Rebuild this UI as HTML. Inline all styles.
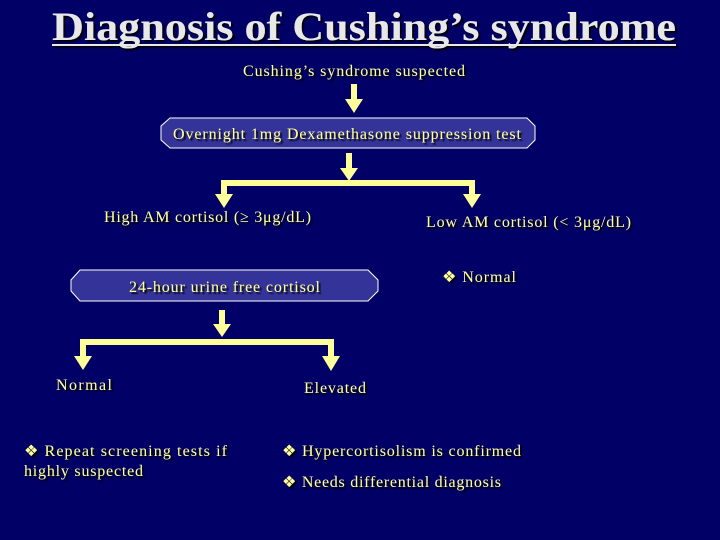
<!DOCTYPE html>
<html><head><meta charset="utf-8"><style>
html,body{margin:0;padding:0;background:#000066;}
svg{display:block;}
text{font-family:"Liberation Serif",serif;}
</style></head><body>
<svg width="720" height="540" viewBox="0 0 720 540" xmlns="http://www.w3.org/2000/svg">
<rect width="720" height="540" fill="#000066"/>
<defs>
<filter id="sh"><feDropShadow dx="2" dy="2" stdDeviation="0.5" flood-color="#000000" flood-opacity="0.9"/></filter>
</defs>
<g filter="url(#sh)">
<text x="52" y="40" textLength="624" lengthAdjust="spacingAndGlyphs" font-size="40" font-weight="bold" fill="#e8e8e8">Diagnosis of Cushing’s syndrome</text>
<line x1="52" y1="45" x2="676" y2="45" stroke="#e8e8e8" stroke-width="2"/>
</g>
<g fill="#ffff99">
<rect x="351" y="84" width="6" height="16"/><polygon points="345,99 363,99 354,113"/>
<rect x="346" y="153" width="6" height="18"/><polygon points="340,168 358,168 349,181"/>
<rect x="221" y="180" width="254" height="6"/>
<rect x="221" y="180" width="6" height="16"/><polygon points="215,194 233,194 224,208"/>
<rect x="469" y="180" width="6" height="16"/><polygon points="463,194 481,194 472,208"/>
<rect x="219" y="310" width="6" height="16"/><polygon points="213,324 231,324 222,337"/>
<rect x="80" y="339" width="254" height="6"/>
<rect x="80" y="339" width="6" height="17"/><polygon points="74,356 92,356 83,370"/>
<rect x="328" y="339" width="6" height="17"/><polygon points="322,356 340,356 331,371"/>
</g>
<polygon points="170,118 527,118 535,126 535,140 527,148 170,148 161,140 161,126" fill="#333399" stroke="#ffffff" stroke-width="1"/>
<polygon points="80,270 368,270 378,280 378,291 368,301 80,301 71,291 71,280" fill="#333399" stroke="#ffffff" stroke-width="1"/>
<g fill="#ffff99" font-size="16" filter="url(#sh)" lengthAdjust="spacing">
<text x="243" y="76" textLength="222">Cushing’s syndrome suspected</text>
<text x="173" y="139" textLength="348">Overnight 1mg Dexamethasone suppression test</text>
<text x="104" y="222" textLength="207">High AM cortisol (≥ 3μg/dL)</text>
<text x="426" y="227" textLength="205">Low AM cortisol (&lt; 3μg/dL)</text>
<text x="129" y="292" textLength="191">24-hour urine free cortisol</text>
<text x="442" y="282" textLength="74">❖ Normal</text>
<text x="56" y="390" textLength="56">Normal</text>
<text x="304" y="393" textLength="62">Elevated</text>
<text x="24" y="456" textLength="203">❖ Repeat  screening  tests if</text>
<text x="24" y="476" textLength="119">highly suspected</text>
<text x="282" y="456" textLength="239">❖ Hypercortisolism is confirmed</text>
<text x="282" y="487" textLength="219">❖ Needs differential diagnosis</text>
</g>
</svg>
</body></html>
